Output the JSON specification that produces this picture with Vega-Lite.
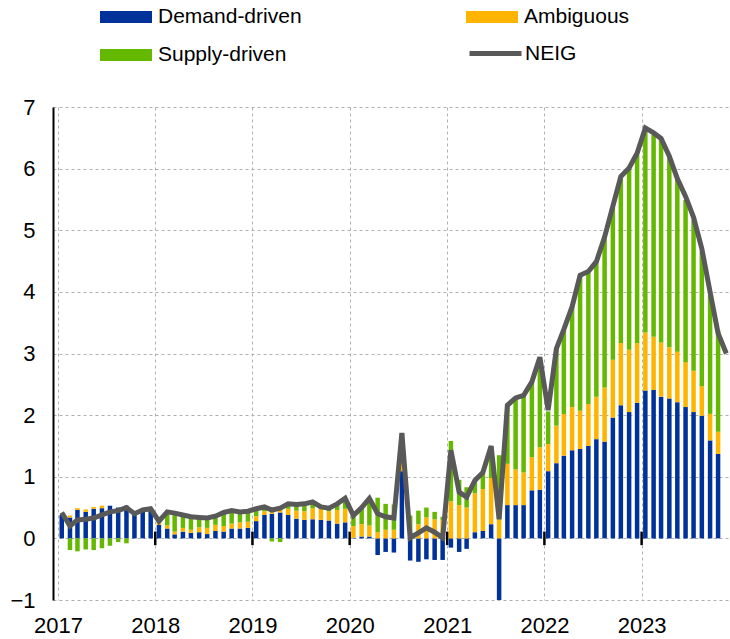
{
  "$schema": "https://vega.github.io/schema/vega-lite/v6.json",
  "width": 677,
  "height": 493,
  "autosize": {"type": "none"},
  "padding": {"left": 53, "top": 107, "right": 0, "bottom": 39},
  "background": "white",
  "config": {
    "view": {"stroke": null},
    "font": "Liberation Sans",
    "axis": {"labelFont": "Liberation Sans", "labelFontSize": 22, "labelColor": "#000000", "ticks": false, "gridColor": "#b0b0b0", "gridDash": [3, 3], "gridWidth": 1},
    "legend": {"labelFont": "Liberation Sans", "labelFontSize": 21, "labelColor": "#000000"}
  },
  "datasets": {
    "main": [
      {"d": "2017/01/15", "dem": 0.38, "amb": 0, "sup": 0, "neig": 0.42},
      {"d": "2017/02/15", "dem": 0.34, "amb": 0.03, "sup": -0.19, "neig": 0.20},
      {"d": "2017/03/15", "dem": 0.46, "amb": 0.03, "sup": -0.21, "neig": 0.30},
      {"d": "2017/04/15", "dem": 0.43, "amb": 0.04, "sup": -0.18, "neig": 0.31},
      {"d": "2017/05/15", "dem": 0.48, "amb": 0.03, "sup": -0.19, "neig": 0.33},
      {"d": "2017/06/15", "dem": 0.49, "amb": 0.04, "sup": -0.16, "neig": 0.38},
      {"d": "2017/07/15", "dem": 0.53, "amb": 0, "sup": -0.12, "neig": 0.43},
      {"d": "2017/08/15", "dem": 0.50, "amb": 0, "sup": -0.06, "neig": 0.45},
      {"d": "2017/09/15", "dem": 0.53, "amb": 0, "sup": -0.08, "neig": 0.50},
      {"d": "2017/10/15", "dem": 0.39, "amb": 0, "sup": 0, "neig": 0.40},
      {"d": "2017/11/15", "dem": 0.44, "amb": 0, "sup": 0, "neig": 0.46},
      {"d": "2017/12/15", "dem": 0.46, "amb": 0, "sup": 0, "neig": 0.48},
      {"d": "2018/01/15", "dem": 0.22, "amb": 0.03, "sup": 0.03, "neig": 0.28},
      {"d": "2018/02/15", "dem": 0.16, "amb": 0.05, "sup": 0.21, "neig": 0.43},
      {"d": "2018/03/15", "dem": 0.065, "amb": 0.045, "sup": 0.29, "neig": 0.41},
      {"d": "2018/04/15", "dem": 0.11, "amb": 0.06, "sup": 0.20, "neig": 0.38},
      {"d": "2018/05/15", "dem": 0.09, "amb": 0.05, "sup": 0.20, "neig": 0.35},
      {"d": "2018/06/15", "dem": 0.10, "amb": 0.08, "sup": 0.15, "neig": 0.34},
      {"d": "2018/07/15", "dem": 0.07, "amb": 0.10, "sup": 0.15, "neig": 0.33},
      {"d": "2018/08/15", "dem": 0.12, "amb": 0.10, "sup": 0.12, "neig": 0.36},
      {"d": "2018/09/15", "dem": 0.11, "amb": 0.09, "sup": 0.20, "neig": 0.42},
      {"d": "2018/10/15", "dem": 0.16, "amb": 0.08, "sup": 0.19, "neig": 0.45},
      {"d": "2018/11/15", "dem": 0.16, "amb": 0.10, "sup": 0.16, "neig": 0.43},
      {"d": "2018/12/15", "dem": 0.17, "amb": 0.10, "sup": 0.15, "neig": 0.44},
      {"d": "2019/01/15", "dem": 0.28, "amb": 0.08, "sup": 0.10, "neig": 0.48},
      {"d": "2019/02/15", "dem": 0.38, "amb": 0.06, "sup": 0.05, "neig": 0.51},
      {"d": "2019/03/15", "dem": 0.40, "amb": 0.10, "sup": -0.05, "neig": 0.46},
      {"d": "2019/04/15", "dem": 0.42, "amb": 0.10, "sup": -0.06, "neig": 0.49},
      {"d": "2019/05/15", "dem": 0.38, "amb": 0.10, "sup": 0.06, "neig": 0.56},
      {"d": "2019/06/15", "dem": 0.32, "amb": 0.13, "sup": 0.09, "neig": 0.55},
      {"d": "2019/07/15", "dem": 0.30, "amb": 0.14, "sup": 0.10, "neig": 0.56},
      {"d": "2019/08/15", "dem": 0.31, "amb": 0.18, "sup": 0.08, "neig": 0.59},
      {"d": "2019/09/15", "dem": 0.30, "amb": 0.18, "sup": 0.03, "neig": 0.51},
      {"d": "2019/10/15", "dem": 0.29, "amb": 0.15, "sup": 0.04, "neig": 0.49},
      {"d": "2019/11/15", "dem": 0.24, "amb": 0.22, "sup": 0.08, "neig": 0.56},
      {"d": "2019/12/15", "dem": 0.26, "amb": 0.22, "sup": 0.14, "neig": 0.65},
      {"d": "2020/01/15", "dem": 0.01, "amb": 0.19, "sup": 0.16, "neig": 0.37},
      {"d": "2020/02/15", "dem": 0.03, "amb": 0.20, "sup": 0.25, "neig": 0.50},
      {"d": "2020/03/15", "dem": 0.03, "amb": 0.18, "sup": 0.42, "neig": 0.65},
      {"d": "2020/04/15", "dem": -0.27, "amb": 0.10, "sup": 0.56, "neig": 0.40},
      {"d": "2020/05/15", "dem": -0.22, "amb": 0.14, "sup": 0.42, "neig": 0.35},
      {"d": "2020/06/15", "dem": -0.23, "amb": 0.14, "sup": 0.41, "neig": 0.33},
      {"d": "2020/07/15", "dem": 1.09, "amb": 0.12, "sup": 0.50, "neig": 1.71},
      {"d": "2020/08/15", "dem": -0.36, "amb": 0.08, "sup": 0.29, "neig": 0.01},
      {"d": "2020/09/15", "dem": -0.38, "amb": 0.23, "sup": 0.22, "neig": 0.09},
      {"d": "2020/10/15", "dem": -0.34, "amb": 0.34, "sup": 0.16, "neig": 0.17},
      {"d": "2020/11/15", "dem": -0.35, "amb": 0.31, "sup": 0.12, "neig": 0.10},
      {"d": "2020/12/15", "dem": -0.35, "amb": 0.30, "sup": 0.05, "neig": 0.01},
      {"d": "2021/01/15", "dem": -0.15, "amb": 0.60, "sup": 0.98, "neig": 1.43},
      {"d": "2021/02/15", "dem": -0.22, "amb": 0.54, "sup": 0.41, "neig": 0.75},
      {"d": "2021/03/15", "dem": -0.17, "amb": 0.50, "sup": 0.33, "neig": 0.67},
      {"d": "2021/04/15", "dem": 0.10, "amb": 0.63, "sup": 0.20, "neig": 0.94},
      {"d": "2021/05/15", "dem": 0.12, "amb": 0.68, "sup": 0.26, "neig": 1.07},
      {"d": "2021/06/15", "dem": 0.23, "amb": 0.75, "sup": 0.51, "neig": 1.50},
      {"d": "2021/07/15", "dem": -1.04, "amb": 0.31, "sup": 1.04, "neig": 0.31},
      {"d": "2021/08/15", "dem": 0.54, "amb": 0.67, "sup": 0.95, "neig": 2.16},
      {"d": "2021/09/15", "dem": 0.54, "amb": 0.58, "sup": 1.16, "neig": 2.28},
      {"d": "2021/10/15", "dem": 0.54, "amb": 0.53, "sup": 1.25, "neig": 2.32},
      {"d": "2021/11/15", "dem": 0.78, "amb": 0.54, "sup": 1.22, "neig": 2.54},
      {"d": "2021/12/15", "dem": 0.79, "amb": 0.69, "sup": 1.45, "neig": 2.94},
      {"d": "2022/01/15", "dem": 1.09, "amb": 0.44, "sup": 0.53, "neig": 2.08},
      {"d": "2022/02/15", "dem": 1.22, "amb": 0.61, "sup": 1.25, "neig": 3.08},
      {"d": "2022/03/15", "dem": 1.34, "amb": 0.68, "sup": 1.36, "neig": 3.39},
      {"d": "2022/04/15", "dem": 1.43, "amb": 0.70, "sup": 1.62, "neig": 3.76},
      {"d": "2022/05/15", "dem": 1.45, "amb": 0.62, "sup": 2.18, "neig": 4.27},
      {"d": "2022/06/15", "dem": 1.50, "amb": 0.68, "sup": 2.13, "neig": 4.33},
      {"d": "2022/07/15", "dem": 1.61, "amb": 0.69, "sup": 2.17, "neig": 4.49},
      {"d": "2022/08/15", "dem": 1.57, "amb": 0.88, "sup": 2.42, "neig": 4.89},
      {"d": "2022/09/15", "dem": 1.96, "amb": 0.94, "sup": 2.47, "neig": 5.39},
      {"d": "2022/10/15", "dem": 2.16, "amb": 1.01, "sup": 2.68, "neig": 5.87},
      {"d": "2022/11/15", "dem": 2.05, "amb": 1.01, "sup": 2.93, "neig": 6.01},
      {"d": "2022/12/15", "dem": 2.20, "amb": 0.97, "sup": 3.06, "neig": 6.25},
      {"d": "2023/01/15", "dem": 2.40, "amb": 0.94, "sup": 3.30, "neig": 6.66},
      {"d": "2023/02/15", "dem": 2.41, "amb": 0.86, "sup": 3.28, "neig": 6.58},
      {"d": "2023/03/15", "dem": 2.30, "amb": 0.88, "sup": 3.29, "neig": 6.49},
      {"d": "2023/04/15", "dem": 2.27, "amb": 0.83, "sup": 3.07, "neig": 6.20},
      {"d": "2023/05/15", "dem": 2.21, "amb": 0.82, "sup": 2.79, "neig": 5.84},
      {"d": "2023/06/15", "dem": 2.13, "amb": 0.73, "sup": 2.63, "neig": 5.55},
      {"d": "2023/07/15", "dem": 2.05, "amb": 0.67, "sup": 2.45, "neig": 5.21},
      {"d": "2023/08/15", "dem": 1.99, "amb": 0.48, "sup": 2.18, "neig": 4.70},
      {"d": "2023/09/15", "dem": 1.59, "amb": 0.43, "sup": 1.93, "neig": 4.00},
      {"d": "2023/10/15", "dem": 1.37, "amb": 0.36, "sup": 1.65, "neig": 3.33},
      {"d": "2023/11/15", "neig": 3.0}
    ],
    "years": [
      {"d": "2018/01/01"}, {"d": "2019/01/01"}, {"d": "2020/01/01"},
      {"d": "2021/01/01"}, {"d": "2022/01/01"}, {"d": "2023/01/01"}
    ],
    "ranks": [
      {"series": "dem", "rank": 1},
      {"series": "amb", "rank": 2},
      {"series": "sup", "rank": 3}
    ]
  },
  "layer": [
    {
      "data": {"name": "main"},
      "transform": [
        {"fold": ["dem", "amb", "sup"], "as": ["series", "value"]},
        {"filter": "isValid(datum.value)"},
        {"lookup": "series", "from": {"data": {"name": "ranks"}, "key": "series", "fields": ["rank"]}}
      ],
      "mark": {"type": "bar", "size": 4.5, "clip": true},
      "encoding": {
        "x": {
          "field": "d", "type": "temporal", "title": null,
          "scale": {"domain": [{"year": 2017, "month": 1, "date": 1}, {"year": 2023, "month": 11, "date": 10}]},
          "axis": {
            "values": [{"year": 2017, "month": 1, "date": 1}, {"year": 2018, "month": 1, "date": 1}, {"year": 2019, "month": 1, "date": 1}, {"year": 2020, "month": 1, "date": 1}, {"year": 2021, "month": 1, "date": 1}, {"year": 2022, "month": 1, "date": 1}, {"year": 2023, "month": 1, "date": 1}],
            "format": "%Y", "labelPadding": 15, "domain": false, "grid": true, "labelFlush": false, "labelOverlap": false
          }
        },
        "y": {
          "field": "value", "type": "quantitative", "stack": "zero", "title": null,
          "scale": {"domain": [-1, 7], "nice": false, "zero": false},
          "axis": {"values": [-1, 0, 1, 2, 3, 4, 5, 6, 7], "format": "d", "labelPadding": 18, "domain": true, "domainColor": "#000000", "domainWidth": 2, "grid": true}
        },
        "color": {
          "field": "series", "type": "nominal",
          "scale": {"domain": ["dem", "sup", "amb"], "range": ["#003299", "#65B800", "#FFB400"]},
          "legend": {
            "orient": "none", "legendX": 47, "legendY": -116, "columns": 2, "columnPadding": 164, "rowPadding": 2,
            "symbolType": "M-1,-0.23H1V0.23H-1Z", "symbolSize": 2704, "symbolStrokeWidth": 0, "labelOffset": 6, "title": null,
            "labelExpr": "datum.label == 'dem' ? 'Demand-driven' : datum.label == 'amb' ? 'Ambiguous' : 'Supply-driven'"
          }
        },
        "order": {"field": "rank", "type": "quantitative"}
      }
    },
    {
      "mark": {"type": "rule", "color": "#000000", "strokeWidth": 2},
      "encoding": {"y": {"datum": 0, "type": "quantitative"}}
    },
    {
      "data": {"name": "years"},
      "mark": {"type": "rule", "color": "#000000", "strokeWidth": 2.5},
      "encoding": {
        "x": {"field": "d", "type": "temporal", "title": null},
        "y": {"datum": -0.11, "type": "quantitative"},
        "y2": {"datum": 0.11}
      }
    },
    {
      "data": {"name": "main"},
      "mark": {"type": "line", "color": "#595959", "strokeWidth": 5, "clip": true},
      "encoding": {
        "x": {"field": "d", "type": "temporal", "title": null},
        "y": {"field": "neig", "type": "quantitative", "title": null},
        "color": {
          "datum": "NEIG",
          "scale": {"range": ["#595959"]},
          "legend": {"orient": "none", "legendX": 414, "legendY": -82, "symbolType": "stroke", "symbolSize": 2704, "symbolStrokeWidth": 5, "labelOffset": 1, "title": null}
        }
      }
    }
  ],
  "resolve": {"scale": {"color": "independent"}}
}
